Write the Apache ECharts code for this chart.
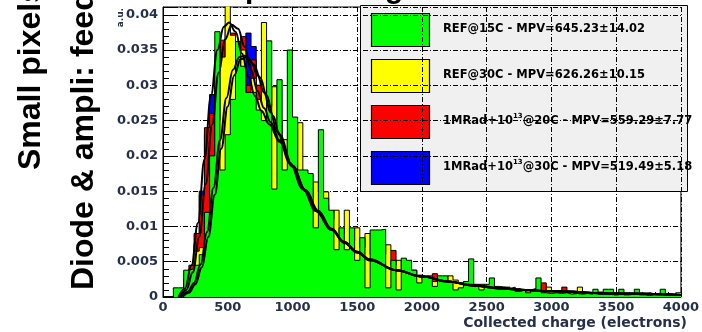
<!DOCTYPE html>
<html><head><meta charset="utf-8">
<script src="https://cdn.jsdelivr.net/npm/echarts/dist/echarts.min.js"></script>
<style>html,body{margin:0;padding:0;background:#fff}#c{width:702px;height:332px}</style>
</head><body><div id="c"></div>
<script>
// ---- data ----
const binStart = 0, binWidth = 40; // histogram binning (electrons)
const titleText = 'Seed pixel charge distribution';
const sideText1 = 'Small pixels';
const sideText2 = 'Diode & ampli: feedback';
const xTitle = 'Collected charge (electrons)';
const yTitle = 'a.u.';
// legend entries: [text before superscript, superscript, text after]
const legendNames = [
  ['REF@15C - MPV=645.23\u00b114.02', '', ''],
  ['REF@30C - MPV=626.26\u00b110.15', '', ''],
  ['1MRad+10', '13', '@20C - MPV=559.29\u00b17.77'],
  ['1MRad+10', '13', '@30C - MPV=519.49\u00b15.18']
];
const xTicks = [0, 4000, 500];
const yTicks = [0, 0.0411, 0.005];

const histGreen = [
0,0,0.0013,0.0013,0.0038,0.0040,0.0045,0.0060,0.0120,0.0200,
0.0376,0.0180,0.0230,0.0280,0.0362,0.0327,0.0290,0.0290,0.0265,0.0250,
0.0363,0.0153,0.0308,0.0180,0.0350,0.0255,0.0180,0.0180,0.0175,0.0098,
0.0237,0.0140,0.0123,0.0067,0.0098,0.0067,0.0098,0.0052,0.0084,0.0013,
0.0095,0.0095,0.0096,0.0013,0.0052,0.0010,0.0055,0.0052,0.0038,0.0020,
0.0030,0.0028,0.0015,0.0030,0.0030,0.0022,0.0010,0.0013,0.0022,0.0054,
0.0016,0.0010,0.0018,0.0027,0.0012,0.0014,0.0012,0.0014,0.0008,0.0010,
0.0006,0.0010,0.0027,0.0006,0.0005,0.0006,0.0005,0.0006,0.0004,0.0005,
0.0004,0.0005,0.0004,0.0011,0.0004,0.0011,0.0011,0.0003,0.0011,0.0003,
0.0004,0.0011,0.0003,0.0002,0.0003,0.0003,0.0011,0.0003,0.0002,0.0003];
const histYellow = [
0,0,0,0.0008,0.0015,0.0025,0.0065,0.0070,0.0100,0.0180,
0.0250,0.0340,0.0450,0.0371,0.0300,0.0350,0.0280,0.0310,0.0280,0.0389,
0.0270,0.0298,0.0250,0.0223,0.0200,0.0160,0.0247,0.0120,0.0140,0.0163,
0.0149,0.0149,0.0110,0.0123,0.0090,0.0123,0.0080,0.0098,0.0070,0.0090,
0.0060,0.0070,0.0060,0.0074,0.0045,0.0052,0.0040,0.0035,0.0038,0.0031,
0.0025,0.0030,0.0022,0.0018,0.0015,0.0030,0.0024,0.0020,0.0017,0.0012,
0.0018,0.0018,0.0015,0.0012,0.0015,0.0014,0.0014,0.0010,0.0012,0.0008,
0.0010,0.0012,0.0008,0.0008,0.0014,0.0008,0.0008,0.0007,0.0006,0.0004,
0.0014,0.0006,0.0004,0.0004,0.0005,0.0004,0.0005,0.0004,0.0003,0.0005,
0.0005,0.0003,0.0004,0.0006,0.0004,0.0003,0.0003,0.0005,0.0003,0.0006];
const histRed = [
0,0,0,0.0005,0.0015,0.0045,0.0090,0.0145,0.0240,0.0260,
0.0320,0.0364,0.0340,0.0374,0.0330,0.0369,0.0300,0.0336,0.0300,0.0308,
0.0260,0.0240,0.0220,0.0200,0.0180,0.0170,0.0150,0.0140,0.0130,0.0120,
0.0110,0.0130,0.0120,0.0090,0.0080,0.0080,0.0070,0.0060,0.0065,0.0060,
0.0050,0.0050,0.0045,0.0066,0.0066,0.0040,0.0035,0.0030,0.0030,0.0028,
0.0028,0.0026,0.0033,0.0020,0.0020,0.0018,0.0016,0.0015,0.0014,0.0012,
0.0012,0.0010,0.0010,0.0010,0.0009,0.0008,0.0008,0.0007,0.0006,0.0006,
0.0005,0.0005,0.0005,0.0020,0.0010,0.0005,0.0004,0.0014,0.0004,0.0005,
0.0003,0.0003,0.0006,0.0003,0.0007,0.0003,0.0002,0.0002,0.0002,0.0004,
0.0002,0.0002,0.0002,0.0002,0.0002,0.0002,0.0002,0.0002,0.0002,0.0002];
const histBlue = [
0,0,0,0.0005,0.0025,0.0040,0.0075,0.0150,0.0230,0.0287,
0.0330,0.0350,0.0386,0.0360,0.0310,0.0340,0.0374,0.0355,0.0300,0.0280,
0.0240,0.0220,0.0200,0.0180,0.0170,0.0150,0.0140,0.0130,0.0120,0.0110,
0.0100,0.0095,0.0085,0.0072,0.0070,0.0065,0.0060,0.0055,0.0050,0.0048,
0.0045,0.0042,0.0040,0.0038,0.0035,0.0033,0.0030,0.0028,0.0026,0.0024,
0.0022,0.0020,0.0019,0.0018,0.0017,0.0016,0.0015,0.0015,0.0013,0.0012,
0.0011,0.0010,0.0010,0.0009,0.0008,0.0008,0.0007,0.0007,0.0006,0.0008,
0.0009,0.0005,0.0005,0.0005,0.0004,0.0004,0.0004,0.0004,0.0003,0.0003,
0.0003,0.0004,0.0003,0.0003,0.0003,0.0003,0.0002,0.0004,0.0002,0.0002,
0.0002,0.0004,0.0002,0.0003,0.0002,0.0004,0.0002,0.0002,0.0002,0.0002];

const fitGreen = [[150,0],[200,0.0006],[250,0.0018],[300,0.0042],[350,0.0085],[400,0.0145],[450,0.0210],[500,0.0270],[550,0.0314],[600,0.0337],[650,0.0340],[700,0.0330],[750,0.0311],[800,0.0286],[850,0.0257],[900,0.0230],[1000,0.0186],[1100,0.0150],[1200,0.0120],[1300,0.0096],[1400,0.0078],[1500,0.0064],[1600,0.0053],[1800,0.0038],[2000,0.0029],[2200,0.0022],[2400,0.0017],[2600,0.0013],[2800,0.0010],[3000,0.0008],[3500,0.0005],[4000,0.0003]];
const fitYellow = [[140,0],[190,0.0007],[240,0.0020],[290,0.0046],[340,0.0092],[390,0.0155],[440,0.0222],[490,0.0282],[540,0.0322],[590,0.0340],[630,0.0342],[680,0.0333],[730,0.0314],[780,0.0290],[830,0.0262],[880,0.0235],[980,0.0190],[1080,0.0153],[1180,0.0122],[1300,0.0095],[1400,0.0077],[1500,0.0063],[1600,0.0052],[1800,0.0038],[2000,0.0029],[2200,0.0022],[2400,0.0016],[2600,0.0012],[2800,0.0010],[3000,0.0008],[3500,0.0005],[4000,0.0003]];
const fitRed = [[130,0],[180,0.0010],[230,0.0035],[280,0.0085],[330,0.0160],[380,0.0245],[430,0.0318],[480,0.0365],[530,0.0386],[580,0.0380],[630,0.0355],[680,0.0322],[730,0.0292],[780,0.0268],[830,0.0248],[900,0.0222],[1000,0.0186],[1100,0.0152],[1200,0.0122],[1300,0.0097],[1400,0.0078],[1500,0.0064],[1600,0.0053],[1800,0.0038],[2000,0.0029],[2200,0.0022],[2400,0.0016],[2600,0.0012],[2800,0.0010],[3000,0.0008],[3500,0.0005],[4000,0.0003]];
const fitBlue = [[120,0],[170,0.0012],[220,0.0045],[270,0.0105],[320,0.0195],[370,0.0285],[420,0.0350],[470,0.0383],[510,0.0389],[560,0.0376],[610,0.0345],[660,0.0312],[710,0.0285],[760,0.0264],[820,0.0245],[900,0.0220],[1000,0.0185],[1100,0.0151],[1200,0.0121],[1300,0.0096],[1400,0.0077],[1500,0.0063],[1600,0.0052],[1800,0.0038],[2000,0.0029],[2200,0.0022],[2400,0.0016],[2600,0.0012],[2800,0.0010],[3000,0.0008],[3500,0.0005],[4000,0.0003]];

// ---- chart ----
const colors = {green:'#00ff00', yellow:'#ffff00', red:'#ff0000', blue:'#0000ff'};
const labelColor = '#27304a';
function steps(arr){
  const d = arr.map((v,i)=>[binStart + i*binWidth, v]);
  d.push([binStart + arr.length*binWidth, arr[arr.length-1]]);
  return d;
}
const hists = [
  {name:'blue', data:histBlue, color:colors.blue, z:2},
  {name:'red', data:histRed, color:colors.red, z:3},
  {name:'yellow', data:histYellow, color:colors.yellow, z:4},
  {name:'green', data:histGreen, color:colors.green, z:5}
];
const fits = [fitBlue, fitRed, fitYellow, fitGreen];
const series = [];
hists.forEach(h=>{
  series.push({type:'line', name:h.name, data:steps(h.data), step:'end', symbol:'none', z:h.z,
    lineStyle:{color:'#000', width:1}, areaStyle:{color:h.color, opacity:1}, silent:true, clip:true});
});
fits.forEach((f,i)=>{
  series.push({type:'line', name:'fit'+i, data:f, smooth:0.4, smoothMonotone:'x', symbol:'none', z:10,
    lineStyle:{color:'#000', width:2}, silent:true, clip:true});
});

const legendFont = 'bold 11.5px "DejaVu Sans"';
const supFont = 'bold 7px "DejaVu Sans"';
const mctx = document.createElement('canvas').getContext('2d');
function tw(t, f){ mctx.font = f; return mctx.measureText(t).width; }
const legendColors = [colors.green, colors.yellow, colors.red, colors.blue];
const legendEls = [{type:'rect', shape:{x:360.5, y:5.5, width:327, height:186}, style:{fill:'#f0f0f0', stroke:'#000', lineWidth:1}}];
const rowTop = [13, 59, 105, 151];
legendNames.forEach((parts,i)=>{
  const cy = rowTop[i] + 16.5;
  legendEls.push({type:'rect', shape:{x:371.5, y:rowTop[i]+0.5, width:58, height:33}, style:{fill:legendColors[i], stroke:'#000', lineWidth:1.2}});
  let x = 443;
  legendEls.push({type:'text', x:x, y:cy, style:{text:parts[0], fill:'#000', font:legendFont, align:'left', verticalAlign:'middle'}});
  x += tw(parts[0], legendFont);
  if (parts[1]) {
    legendEls.push({type:'text', x:x, y:cy-5, style:{text:parts[1], fill:'#000', font:supFont, align:'left', verticalAlign:'middle'}});
    x += tw(parts[1], supFont);
  }
  if (parts[2]) {
    legendEls.push({type:'text', x:x, y:cy, style:{text:parts[2], fill:'#000', font:legendFont, align:'left', verticalAlign:'middle'}});
  }
});

const chart = echarts.init(document.getElementById('c'), null, {renderer:'canvas'});
chart.setOption({
  animation:false,
  backgroundColor:'#fff',
  grid:{left:163, right:16, top:7, bottom:35, show:true, borderColor:'#000', borderWidth:1, backgroundColor:'transparent'},
  xAxis:{type:'value', min:xTicks[0], max:xTicks[1], interval:xTicks[2],
    axisLine:{show:true, onZero:false, lineStyle:{color:'#000', width:1}},
    axisTick:{show:true, inside:true, length:9, lineStyle:{color:'#000'}},
    minorTick:{show:true, splitNumber:5, length:5, lineStyle:{color:'#000'}},
    axisLabel:{color:labelColor, fontFamily:'DejaVu Sans', fontWeight:'bold', fontSize:13, margin:4, formatter:v=>String(v)},
    splitLine:{show:true, lineStyle:{color:'#000', width:1, type:[5,2,1,2]}}},
  yAxis:{type:'value', min:yTicks[0], max:yTicks[1], interval:yTicks[2],
    axisLine:{show:true, onZero:false, lineStyle:{color:'#000', width:1}},
    axisTick:{show:true, inside:true, length:11, lineStyle:{color:'#000'}},
    minorTick:{show:true, splitNumber:5, length:6, lineStyle:{color:'#000'}},
    axisLabel:{color:labelColor, fontFamily:'DejaVu Sans', fontWeight:'bold', fontSize:13, margin:5,
      formatter:v=>{const r=Math.round(v*1000)/1000; if(Math.abs(r/yTicks[2]-Math.round(r/yTicks[2]))>1e-6) return ''; return String(r);}},
    splitLine:{show:true, lineStyle:{color:'#000', width:1, type:[5,2,1,2]}}},
  series:series,
  graphic:[
    {type:'text', x:165, y:5, z:100, style:{text:titleText, fill:'#000', font:'bold 30px "Liberation Sans"', align:'left', verticalAlign:'bottom'}},
    {type:'text', x:31.5, y:170, rotation:Math.PI/2, z:100, style:{text:sideText1, fill:'#000', font:'bold 32px "Liberation Sans"', align:'left', verticalAlign:'middle'}},
    {type:'text', x:84.5, y:290, rotation:Math.PI/2, z:100, style:{text:sideText2, fill:'#000', font:'bold 32px "Liberation Sans"', align:'left', verticalAlign:'middle'}},
    {type:'text', x:121, y:8, rotation:Math.PI/2, z:100, style:{text:yTitle, fill:labelColor, font:'bold 9px "DejaVu Sans"', align:'right', verticalAlign:'middle'}},
    {type:'text', x:687, y:323.5, z:100, style:{text:xTitle, fill:labelColor, font:'bold 14px "DejaVu Sans"', align:'right', verticalAlign:'middle'}},
    {type:'group', z:100, children:legendEls}
  ]
});
</script></body></html>
